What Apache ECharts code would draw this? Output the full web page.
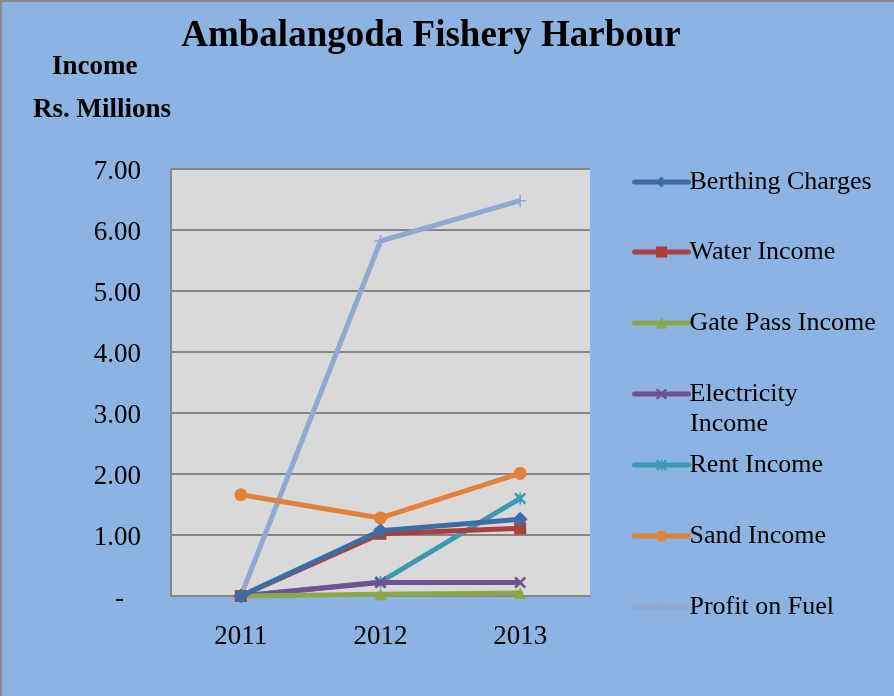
<!DOCTYPE html>
<html>
<head>
<meta charset="utf-8">
<script src="https://cdn.jsdelivr.net/npm/echarts@6/dist/echarts.min.js"></script>
<style>
  html, body { margin: 0; padding: 0; background: #8DB3E2; }
  #main { width: 892px; height: 694px; border-top: 2px solid #8a8a8a; border-left: 2px solid #8a8a8a; }
</style>
</head>
<body>
<div id="main"></div>
<script>
// data (Rs. Millions)
var years = ["2011", "2012", "2013"];
var seriesNames = ["Berthing Charges", "Water Income", "Gate Pass Income", "Electricity Income", "Rent Income", "Sand Income", "Profit on Fuel"];
var berthing = [0, 1.07, 1.26];
var water = [0, 1.02, 1.11];
var gatePass = [0, 0.03, 0.05];
var electricity = [0, 0.22, 0.22];
var rent = [0, 0.23, 1.60];
var sand = [1.66, 1.28, 2.01];
var fuel = [0, 5.82, 6.48];
var yTicks = [0, 1, 2, 3, 4, 5, 6, 7];

var values = [berthing, water, gatePass, electricity, rent, sand, fuel];
var colors = ["#3E6DA6", "#AA3F3D", "#8AA84A", "#6F538E", "#3B9AB2", "#E2823A", "#91A8D0"];
var xPath = "path://M0,1.5 L1.5,0 L5,3.5 L8.5,0 L10,1.5 L6.5,5 L10,8.5 L8.5,10 L5,6.5 L1.5,10 L0,8.5 L3.5,5 Z";
var starPath = "path://M0,1.5 L1.5,0 L4.3,2.8 L4.3,0 L5.7,0 L5.7,2.8 L8.5,0 L10,1.5 L6.5,5 L10,8.5 L8.5,10 L5.7,7.2 L5.7,10 L4.3,10 L4.3,7.2 L1.5,10 L0,8.5 L3.5,5 Z";
var plusPath = "path://M4.3,0 L5.7,0 L5.7,4.3 L10,4.3 L10,5.7 L5.7,5.7 L5.7,10 L4.3,10 L4.3,5.7 L0,5.7 L0,4.3 L4.3,4.3 Z";
var symbols = ["diamond", "rect", "triangle", xPath, starPath, "circle", plusPath];
var symbolSizes = [15, 12, 12, 12, 12, 13, 12];

var font = "'Liberation Serif', 'DejaVu Serif', serif";
var legendTops = [166, 236, 307, 378, 449, 520, 591];

var chart = echarts.init(document.getElementById("main"));

var series = seriesNames.map(function (name, i) {
    return {
        name: name,
        type: "line",
        data: values[i],
        symbol: symbols[i],
        symbolSize: symbolSizes[i],
        showAllSymbol: true,
        z: 10 - i,
        lineStyle: { width: 5, color: colors[i] },
        itemStyle: { color: colors[i] }
    };
});
// the big fuel line sits under the others
series[6].z = 3;

var legends = seriesNames.map(function (name, i) {
    return {
        data: [name],
        orient: "vertical",
        left: 630,
        top: legendTops[i],
        padding: 0,
        itemWidth: 54,
        itemHeight: 14,
        itemGap: 4,
        lineStyle: { width: 5, cap: "round" },
        formatter: function (n) { return n === "Electricity Income" ? "Electricity" : n; },
        textStyle: { fontFamily: font, fontSize: 26, color: "#000", lineHeight: 28, padding: [0, 0, 0, -4] }
    };
});

chart.setOption({
    backgroundColor: "#8DB3E2",
    animation: false,
    color: colors,
    title: {
        text: "Ambalangoda Fishery Harbour",
        left: 424,
        textAlign: "center",
        top: 11,
        textStyle: { fontFamily: font, fontSize: 37, fontWeight: "bold", color: "#000" }
    },
    graphic: [
        { type: "text", left: 50, top: 52, style: { text: "Income", font: "bold 27px " + font, fill: "#000" } },
        { type: "text", left: 31, top: 95, style: { text: "Rs. Millions", font: "bold 27px " + font, fill: "#000" } },
        { type: "text", left: 688, top: 409, style: { text: "Income", font: "26px " + font, fill: "#000" } }
    ],
    legend: legends,
    grid: {
        left: 169, right: 304, top: 167, bottom: 100,
        show: true, backgroundColor: "#D9D9D9", borderWidth: 0
    },
    xAxis: {
        type: "category",
        data: years,
        boundaryGap: true,
        axisLine: { lineStyle: { color: "#868686", width: 2 } },
        axisTick: { show: false },
        axisLabel: { fontFamily: font, fontSize: 27, color: "#000", margin: 27 }
    },
    yAxis: {
        type: "value",
        min: yTicks[0],
        max: yTicks[yTicks.length - 1],
        interval: 1,
        axisLine: { show: true, lineStyle: { color: "#868686", width: 2 } },
        axisTick: { show: false },
        splitLine: { lineStyle: { color: "#868686", width: 2 } },
        axisLabel: {
            fontFamily: font, fontSize: 27, color: "#000", margin: 30, padding: [5, 0, 0, 0],
            formatter: function (v) { return v === 0 ? "{d|-}" : v.toFixed(2); },
            rich: { d: { fontFamily: font, fontSize: 27, color: "#000", padding: [0, 17, 0, 0] } }
        }
    },
    series: series
});
</script>
</body>
</html>
